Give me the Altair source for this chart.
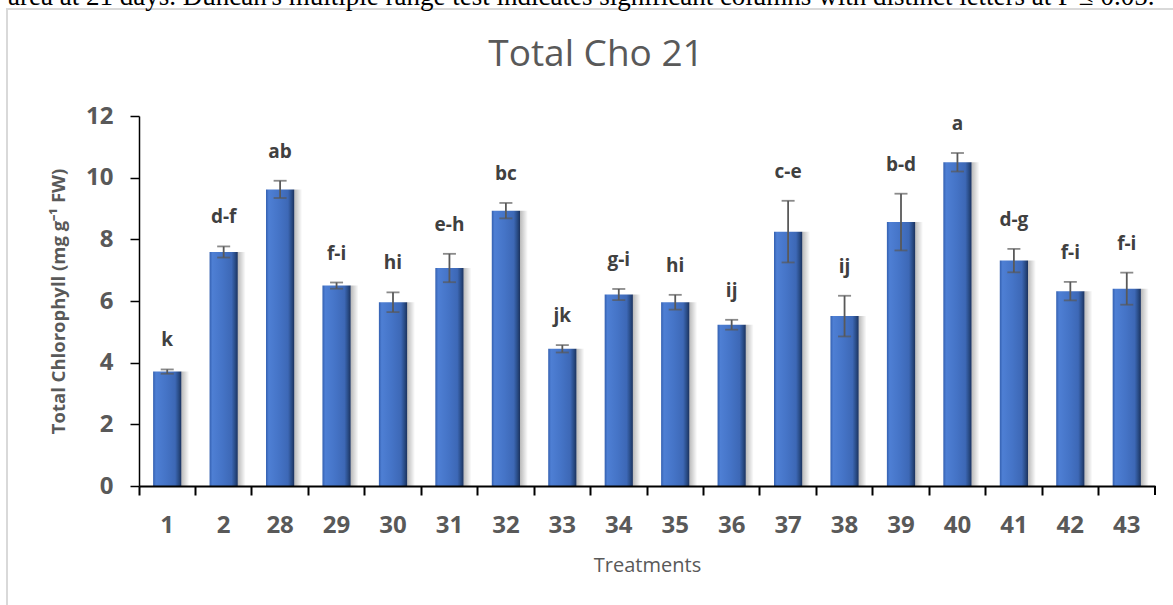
import altair as alt
import pandas as pd

# Treatment codes along the x axis
treatments = ["1", "2", "28", "29", "30", "31", "32", "33", "34",
              "35", "36", "37", "38", "39", "40", "41", "42", "43"]
# Mean total chlorophyll (mg g-1 FW) and standard error per treatment
means = [3.71, 7.59, 9.62, 6.50, 5.96, 7.07, 8.93, 4.45, 6.21,
         5.96, 5.23, 8.25, 5.51, 8.56, 10.50, 7.31, 6.32, 6.40]
errors = [0.07, 0.18, 0.28, 0.10, 0.32, 0.46, 0.25, 0.12, 0.18,
          0.24, 0.16, 1.00, 0.66, 0.92, 0.30, 0.38, 0.30, 0.52]
# Duncan's multiple range test groupings
letters = ["k", "d-f", "ab", "f-i", "hi", "e-h", "bc", "jk", "g-i",
           "hi", "ij", "c-e", "ij", "b-d", "a", "d-g", "f-i", "f-i"]
y_ticks = [0, 2, 4, 6, 8, 10, 12]

caption = ("area at 21 days. Duncan's multiple range test indicates significant "
           "columns with distinct letters at P \u2264 0.05.")

df = pd.DataFrame({"Treatment": treatments, "Mean": means, "SE": errors, "Group": letters})
df["Low"] = df["Mean"] - df["SE"]
df["High"] = df["Mean"] + df["SE"]

W, H = 1016, 370
PAD_L, PAD_T = 139, 116
GREY = "#595959"
FONT = "Open Sans"

x_enc = alt.X(
    "Treatment:N",
    sort=treatments,
    scale=alt.Scale(paddingInner=0, paddingOuter=0),
    axis=alt.Axis(
        title="Treatments",
        titleFont=FONT, titleFontSize=20, titleFontWeight="normal", titleColor=GREY,
        titleY=79, titleBaseline="middle",
        labelFont=FONT, labelFontSize=24, labelFontWeight="bold", labelColor=GREY,
        labelAngle=0, labelPadding=18,
        bandPosition=0, tickSize=9, tickColor="black", tickWidth=2,
        domainColor="black", domainWidth=2, zindex=1,
    ),
)
y_enc = alt.Y(
    "Mean:Q",
    scale=alt.Scale(domain=[0, 12], nice=False),
    axis=alt.Axis(
        title="Total Chlorophyll (mg g\u207b\u00b9 FW)",
        titleFont=FONT, titleFontSize=18.5, titleFontWeight="bold", titleColor=GREY,
        titleX=-81, titleY=185, titleAngle=-90, titleBaseline="middle",
        values=y_ticks, grid=False,
        labelFont=FONT, labelFontSize=24, labelFontWeight="bold", labelColor=GREY,
        labelPadding=17,
        tickSize=9, tickColor="black", tickWidth=1.5,
        domainColor="black", domainWidth=1.5, zindex=1,
    ),
)

base = alt.Chart(df)

bar_fill = alt.Gradient(
    gradient="linear", x1=0, x2=1, y1=0, y2=0,
    stops=[
        alt.GradientStop(offset=0.0, color="#3460B0"),
        alt.GradientStop(offset=0.10, color="#4E7FD4"),
        alt.GradientStop(offset=0.45, color="#4574C7"),
        alt.GradientStop(offset=0.78, color="#3D68B6"),
        alt.GradientStop(offset=0.90, color="#2A4D88"),
        alt.GradientStop(offset=1.0, color="#1B325E"),
    ],
)
shadow_fill = alt.Gradient(
    gradient="linear", x1=0, x2=1, y1=0, y2=0,
    stops=[
        alt.GradientStop(offset=0.0, color="rgba(0,0,0,0.28)"),
        alt.GradientStop(offset=1.0, color="rgba(0,0,0,0)"),
    ],
)

shadow = base.mark_bar(width=8, xOffset=18, color=shadow_fill).encode(
    x=x_enc, y=y_enc
)
bars = base.mark_bar(width=alt.RelativeBandSize(0.5), color=bar_fill).encode(
    x=x_enc, y=y_enc
)
err_rule = base.mark_rule(color=GREY, strokeWidth=1.8).encode(
    x="Treatment:N", y="Low:Q", y2="High:Q"
)
err_low = base.mark_tick(color=GREY, size=13, thickness=1.8, orient="horizontal").encode(
    x="Treatment:N", y="Low:Q"
)
err_high = base.mark_tick(color=GREY, size=13, thickness=1.8, orient="horizontal").encode(
    x="Treatment:N", y="High:Q"
)
group_text = base.mark_text(
    font=FONT, fontSize=19, fontWeight="bold", color="#404040",
    baseline="middle", dy=-29,
).encode(x="Treatment:N", y="High:Q", text="Group:N")

one = alt.Data(values=[{}])
# closing tick at the right end of the category axis
end_tick = alt.Chart(one).mark_rule(color="black", strokeWidth=2).encode(
    x=alt.value(W), y=alt.value(H), y2=alt.value(H + 9)
)
frame = alt.Chart(one).mark_rect(fill="transparent", stroke="#D9D9D9", strokeWidth=2).encode(
    x=alt.value(7 - PAD_L), y=alt.value(9 - PAD_T),
    x2=alt.value(1173 - PAD_L + 20), y2=alt.value(605 - PAD_T + 20),
)
title_text = alt.Chart(one).mark_text(
    text="Total Cho 21", font=FONT, fontSize=37, color=GREY, baseline="middle", align="center"
).encode(x=alt.value(596 - PAD_L), y=alt.value(55 - PAD_T))
caption_text = alt.Chart(one).mark_text(
    text=caption, font="Liberation Serif", fontSize=27, color="black",
    baseline="alphabetic", align="left",
).encode(x=alt.value(8 - PAD_L), y=alt.value(4.5 - PAD_T))

chart = alt.layer(
    frame, caption_text, title_text, shadow, bars, err_rule, err_low, err_high,
    group_text, end_tick,
).properties(
    width=W, height=H,
    autosize=alt.AutoSizeParams(type="none"),
    padding={"left": PAD_L, "top": PAD_T, "right": 1173 - PAD_L - W, "bottom": 605 - PAD_T - H},
).configure_view(stroke=None)

chart.save("out.html", embed_options={"renderer": "svg", "actions": False})
